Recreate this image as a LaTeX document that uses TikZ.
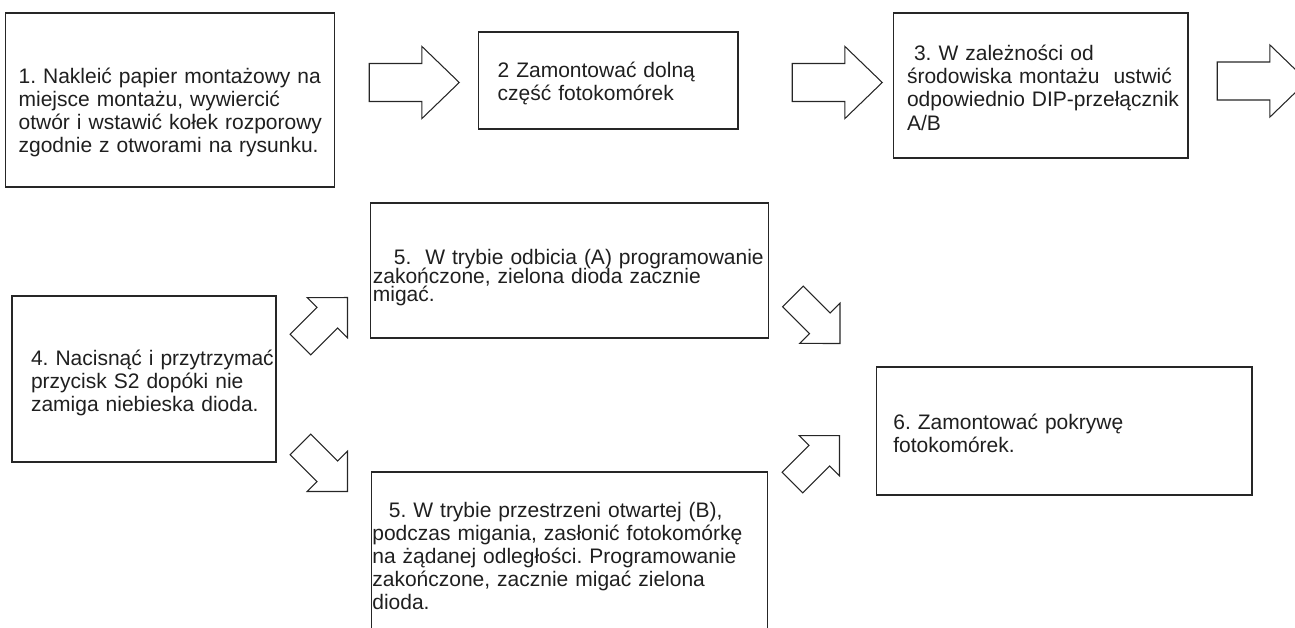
\documentclass[tikz,border=0pt]{standalone}
\usepackage{fontspec}
\setmainfont{Liberation Sans}
\usetikzlibrary{shapes.arrows}

\newcommand\luzno{\fontsize{11.95pt}{13.15pt}\selectfont\frenchspacing}
\newcommand\ciasno{\fontsize{11.95pt}{10.5pt}\selectfont\frenchspacing\lineskiplimit=-100pt\relax}

\tikzset{
  krok/.style={draw=black!85, line width=0.6pt, rectangle, inner sep=0pt},
  opis/.style={anchor=base west, align=left, text width=8.6cm, inner sep=0pt,
    text=black!88, font=\luzno},
  strzalka/.style={single arrow, draw=black!85, line width=0.6pt, anchor=tip,
    inner xsep=0pt, inner ysep=0.37cm,
    single arrow tip angle=88, single arrow head extend=0.34cm,
    minimum height=1.8cm},
  skos/.style={single arrow, draw=black!85, line width=0.6pt, anchor=tip,
    inner xsep=0pt, inner ysep=0.28cm,
    single arrow tip angle=90, single arrow head extend=0.28cm,
    minimum height=1.33cm}
}

\begin{document}
\begin{tikzpicture}[x=0.02cm, y=-0.02cm]
    \useasboundingbox (0,0) rectangle (1295,628);
    \clip (0,0) rectangle (1295,628);
    % Prostokaty krokow
    \node[krok, minimum width=6.6cm, minimum height=3.48cm] (b1) at (170,100) {};
    \node[krok, minimum width=5.2cm, minimum height=1.94cm] (b2) at (608,80.5) {};
    \node[krok, minimum width=5.9cm, minimum height=2.9cm] (b3) at (1040.5,85.5) {};
    \node[krok, minimum width=5.28cm, minimum height=3.32cm] (b4) at (144,379) {};
    \node[krok, minimum width=7.98cm, minimum height=2.7cm] (b5a) at (569.5,270.5) {};
    \node[krok, minimum width=7.94cm, minimum height=3.56cm] (b5b) at (569.5,561) {};
    \node[krok, minimum width=7.52cm, minimum height=2.56cm] (b6) at (1064,431) {};
    % Teksty
    \node[opis] (t1) at (18.3,83.4) {1. Nakleić papier montażowy na\\miejsce montażu, wywiercić\\otwór i wstawić kołek rozporowy\\zgodnie z otworami na rysunku.};
    \node[opis] (t2) at (497.3,77.3) {2 Zamontować dolną\\część fotokomórek};
    \node[opis] (t3) at (906.7,60.7) {\ 3. W zależności od\\środowiska montażu \ ustwić\\odpowiednio DIP-przełącznik\\A/B};
    \node[opis] (t4) at (30.7,365) {4. Nacisnąć i przytrzymać\\przycisk S2 dopóki nie\\zamiga niebieska dioda.};
    \node[opis, font=\ciasno] (t5a) at (372.5,265) {\hspace*{0.42cm}5.\ \ W trybie odbicia (A) programowanie\\zakończone, zielona dioda zacznie\\migać.};
    \node[opis] (t5b) at (372,517.3) {\hspace*{0.33cm}5. W trybie przestrzeni otwartej (B),\\podczas migania, zasłonić fotokomórkę\\na żądanej odległości. Programowanie\\zakończone, zacznie migać zielona\\dioda.};
    \node[opis] (t6) at (893,429.5) {6. Zamontować pokrywę\\fotokomórek.};
    % Strzalki (kotwica w grocie)
    \node[strzalka] (s12) at (460,82.5) {};
    \node[strzalka] (s23) at (883,82.5) {};
    \node[strzalka] (s34) at (1308,81) {};
    \node[skos, rotate=45] (s45a) at (348,297) {};
    \node[skos, rotate=-45] (s45b) at (348,492) {};
    \node[skos, rotate=-45] (s5a6) at (840.5,344) {};
    \node[skos, rotate=45] (s5b6) at (840,435) {};
\end{tikzpicture}
\end{document}
